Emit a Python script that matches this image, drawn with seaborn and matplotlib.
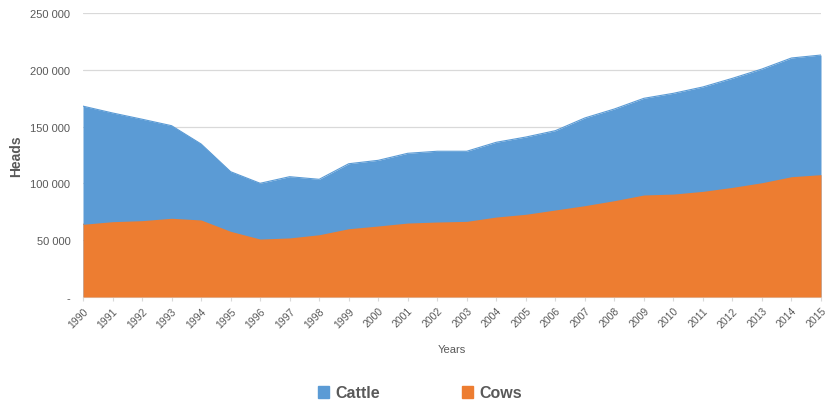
import matplotlib
matplotlib.use('Agg')
import matplotlib.pyplot as plt
from matplotlib.patches import Patch
from matplotlib.ticker import FuncFormatter
import numpy as np
import pandas as pd
import seaborn as sns

years = list(range(1990, 2016))
cattle = [168000, 162000, 156500, 150800, 134700, 110300, 100100, 105900, 103600,
          117300, 120300, 126500, 128300, 128300, 136200, 140800, 146400, 157600,
          165500, 174900, 179300, 184900, 192500, 200700, 210400, 213000]
cows = [64000, 66300, 67200, 69300, 67800, 57800, 51000, 52000, 54800,
        60100, 62500, 65100, 66000, 66600, 70400, 72800, 76600, 80400,
        84800, 89800, 90600, 93000, 96500, 100600, 105900, 107700]

df = pd.DataFrame({'Year': years, 'Cattle': cattle, 'Cows': cows})

sns.set_style('white')
plt.rcParams['font.family'] = ['Liberation Sans', 'DejaVu Sans']

blue = '#5B9BD5'
orange = '#ED7D31'
grey = '#595959'

fig = plt.figure(figsize=(8.25, 4.06), dpi=100)
ax = fig.add_axes([83 / 825, 1 - 298 / 406, (821 - 83) / 825, (298 - 14) / 406])

sns.lineplot(x='Year', y='Cattle', data=df, ax=ax, color=blue, linewidth=0.8)
sns.lineplot(x='Year', y='Cows', data=df, ax=ax, color=orange, linewidth=0.8)
ax.fill_between(df['Year'], df['Cattle'], color=blue, linewidth=0, zorder=2)
ax.fill_between(df['Year'], df['Cows'], color=orange, linewidth=0, zorder=3)

ax.set_xlim(1990, 2015)
ax.set_ylim(0, 250000)
ax.set_yticks(np.arange(0, 250001, 50000))
ax.yaxis.set_major_formatter(FuncFormatter(
    lambda v, p: '-' if v == 0 else '{:,.0f}'.format(v).replace(',', ' ')))
ax.set_xticks(years)
ax.set_xticklabels([str(y) for y in years], rotation=45, ha='right',
                   rotation_mode='anchor', fontsize=7.5, color=grey)
ax.tick_params(axis='y', labelsize=8, colors=grey, length=0, pad=9)
ax.tick_params(axis='x', length=3, color='#D9D9D9', pad=3, direction='out')
ax.xaxis.set_tick_params(bottom=True)

ax.grid(axis='y', color='#D9D9D9', linewidth=0.9, zorder=0)
ax.set_axisbelow(True)
for s in ['top', 'right', 'left']:
    ax.spines[s].set_visible(False)
ax.spines['bottom'].set_color('#D9D9D9')

ax.set_xlabel('Years', fontsize=8, color=grey, labelpad=11)
ax.set_ylabel('Heads', fontsize=10, color=grey, fontweight='bold', labelpad=5)

handles = [Patch(color=blue, label='Cattle'), Patch(color=orange, label='Cows')]
fig.legend(handles=handles, loc='center', bbox_to_anchor=(0.509, 1 - 394 / 406),
           ncol=2, frameon=False, handlelength=0.7, handleheight=0.7,
           handletextpad=0.4, columnspacing=5.1,
           prop={'size': 11.5, 'weight': 'bold'}, labelcolor=grey)

fig.savefig('out.png', dpi=100)
